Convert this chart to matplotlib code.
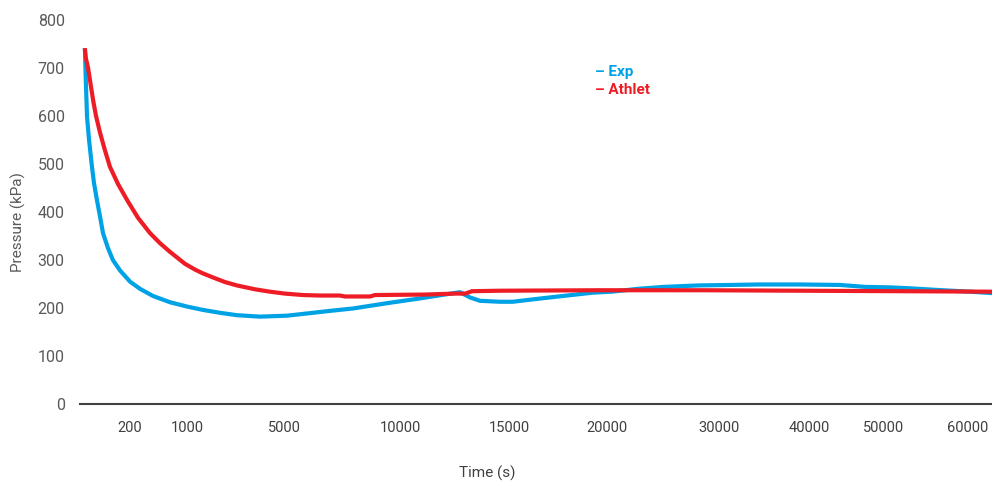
import matplotlib
matplotlib.use("Agg")
import matplotlib.pyplot as plt
import numpy as np

plt.rcParams['font.family'] = ['Roboto', 'DejaVu Sans']

# Pressure history, time in seconds, pressure in kPa
exp_time = [0, 2, 4, 9, 18, 31, 40, 53, 67, 80, 102, 124, 156, 200, 340, 523,
            761, 1000, 1660, 2360, 3060, 4010, 5130, 6250, 6980, 7970, 9440,
            10920, 12750, 13210, 13670, 14590, 15200, 16220, 17960, 19290,
            20450, 22770, 25090, 28130, 34560, 39000, 44130, 47470, 50710,
            53100, 57020, 60240, 62860]
exp_pressure = [737, 700, 669, 598, 550, 494, 460, 425, 390, 356, 325, 300, 278,
                255, 240, 225, 212, 203, 196, 190, 185, 182, 184, 190, 194, 199,
                210, 220, 233, 222, 215, 213, 213, 218, 226, 232, 234, 240, 244,
                247, 249, 249, 248, 244, 243, 241, 237, 234, 231]

athlet_time = [0, 4, 13, 22, 36, 49, 67, 89, 111, 147, 187, 312, 481, 621, 761,
               972, 1330, 1660, 2155, 2570, 3060, 3800, 4420, 5040, 5820, 6550,
               7410, 7630, 8710, 8920, 11150, 12520, 13000, 13300, 14590, 19640,
               28300, 39000, 51900, 62860]
athlet_pressure = [737, 720, 702, 675, 633, 600, 565, 528, 494, 458, 425, 388,
                   356, 335, 317, 292, 280, 272, 262, 254, 247, 239, 234, 230,
                   227, 226, 226, 224, 224, 227, 228, 230, 230, 235, 236, 237,
                   237, 236, 235, 234]

tick_times = [200, 1000, 5000, 10000, 15000, 20000, 30000, 40000, 50000, 60000]
tick_labels = [str(t) for t in tick_times]

# the time axis is stretched piecewise between the labelled instants
scale_t = [-100, 0] + tick_times + [70000]
scale_u = [80, 85, 130, 187, 284, 400, 509, 607, 719, 809, 884, 968, 1052]


def forward(t):
    return np.interp(t, scale_t, scale_u)


def inverse(u):
    return np.interp(u, scale_u, scale_t)


blue = "#00a2e6"
red = "#ee1c25"

fig = plt.figure(figsize=(9.92, 4.83), dpi=100)
ax = fig.add_axes([80 / 992, (483 - 404) / 483, 912 / 992, 384 / 483])
ax.set_xscale('function', functions=(forward, inverse))

ax.plot(exp_time, exp_pressure, color=blue, linewidth=3, solid_joinstyle='round')
ax.plot(athlet_time, athlet_pressure, color=red, linewidth=3, solid_joinstyle='round')

ax.set_xlim(-100, 62860)
ax.set_ylim(0, 800)
ax.set_yticks(range(0, 801, 100))
ax.set_xticks(tick_times)
ax.set_xticklabels(tick_labels)

for side in ('top', 'right', 'left'):
    ax.spines[side].set_visible(False)
ax.spines['bottom'].set_color('#404040')
ax.spines['bottom'].set_linewidth(1.5)
ax.tick_params(axis='y', length=0, pad=11, labelsize=11.5, labelcolor='#595959')
ax.tick_params(axis='x', length=0, pad=12, labelsize=10.5, labelcolor='#404040')

fig.text(18 / 992, 1 - 222 / 483, "Pressure (kPa)", rotation=90, ha='center',
         va='center', fontsize=11, color='#595959')
fig.text(487 / 992, 1 - 473 / 483, "Time (s)", ha='center', va='center',
         fontsize=11, color='#404040')

# legend drawn as two coloured text lines
fig.text(595 / 992, 1 - 72 / 483, "– Exp", ha='left', va='center',
         fontsize=11, fontweight='bold', color=blue)
fig.text(595 / 992, 1 - 90 / 483, "– Athlet", ha='left', va='center',
         fontsize=11, fontweight='bold', color=red)

fig.savefig("out.png", dpi=100)
